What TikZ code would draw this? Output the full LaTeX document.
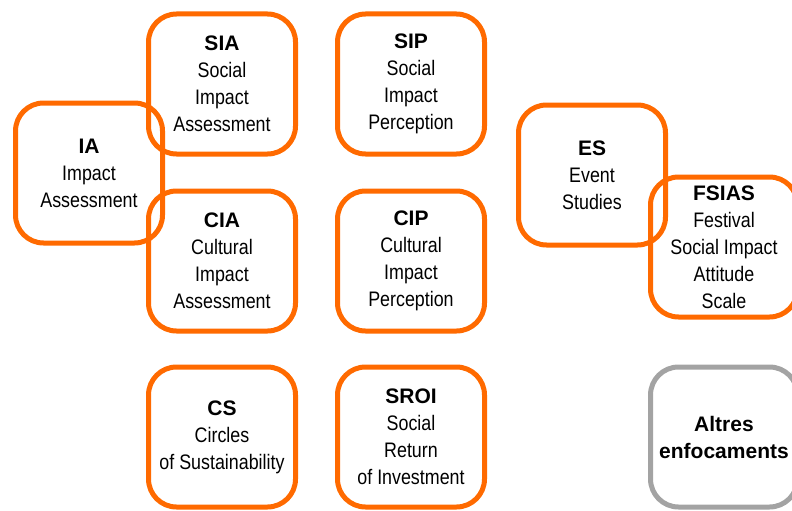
\documentclass[tikz,border=0pt]{standalone}
\usepackage{fontspec}
\setmainfont{Liberation Sans}[FakeStretch=0.85]
\newfontfamily\headfont{Liberation Sans}
\newcommand{\hd}[1]{{\headfont\bfseries #1}}
\usetikzlibrary{positioning}
\definecolor{boxc}{HTML}{FF6A00}
\definecolor{othc}{HTML}{A3A3A3}
\tikzset{
  bx/.style={draw=boxc,line width=5pt,rounded corners=28pt,minimum width=147pt,minimum height=140pt,inner sep=0pt,align=center,font=\fontsize{21}{27}\selectfont},
  gbx/.style={bx,draw=othc}
}

\begin{document}
\begin{tikzpicture}[x=1pt,y=-1pt]
\useasboundingbox (0,0) rectangle (792,511);
% first column
\node[bx] (ia) at (89,173) {\hd{IA}\\Impact\\Assessment};
% assessment and perception
\node[bx] (sia) at (222,84) {\hd{SIA}\\Social\\Impact\\Assessment};
\node[bx] (sip) at (411,84) {\hd{SIP}\\Social\\Impact\\Perception};
\node[bx] (cia) at (222,261) {\hd{CIA}\\Cultural\\Impact\\Assessment};
\node[bx] (cip) at (411,261) {\hd{CIP}\\Cultural\\Impact\\Perception};
\node[bx] (cs) at (222,437) {\hd{CS}\\Circles\\of Sustainability};
\node[bx] (sroi) at (411,437) {\hd{SROI}\\Social\\Return\\of Investment};
% events
\node[bx] (es) at (592,175) {\hd{ES}\\Event\\Studies};
\node[bx] (fsias) at (724,247) {\hd{FSIAS}\\Festival\\Social Impact\\Attitude\\Scale};
\node[gbx] (altres) at (724,437) {\hd{Altres}\\\hd{enfocaments}};
\end{tikzpicture}
\end{document}
